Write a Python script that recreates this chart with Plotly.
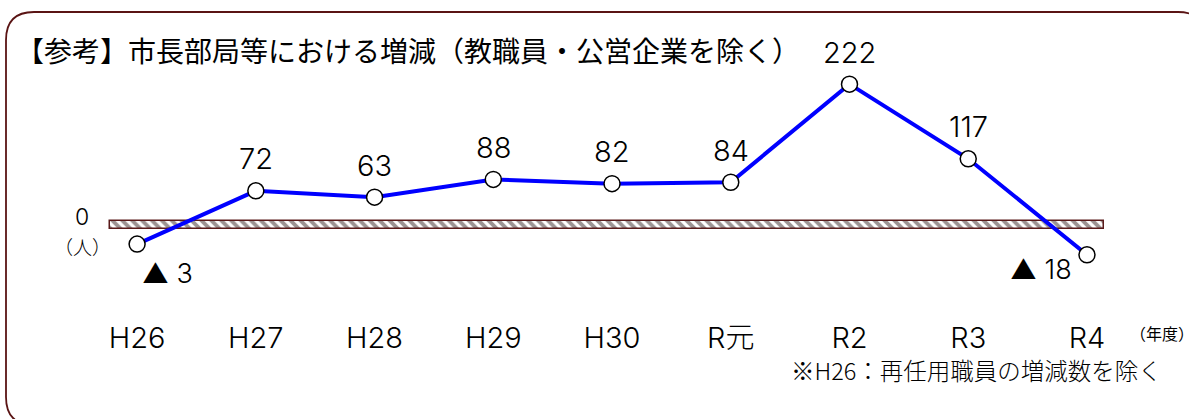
import plotly.graph_objects as go

# 年度別の増減数（人）
years = ["H26", "H27", "H28", "H29", "H30", "R元", "R2", "R3", "R4"]
changes = [-3, 72, 63, 88, 82, 84, 222, 117, -18]

title_text = "【参考】市長部局等における増減（教職員・公営企業を除く）"
note_text = "※H26：再任用職員の増減数を除く"
unit_text = "（人）"
fy_text = "（年度）"

W, H = 1189, 419
ML, MR, MT, MB = 100, 79, 20, 105
PW, PH = W - ML - MR, H - MT - MB

xs = list(range(len(years)))
x_range = [-0.3125, 8.194]
y_range = [-101.3, 312.2]

SANS = "Inter, DejaVu Sans, Noto Sans CJK JP"
CJK = "Noto Sans CJK JP"


def px(x):
    return (x - ML) / PW


def py(y):
    return (H - MB - y) / PH


fig = go.Figure()

# 0 ライン（斜線帯）
fig.add_trace(go.Bar(
    x=[3.958], y=[11.2], base=[18.3], width=[8.371],
    marker=dict(
        color="white",
        line=dict(color="#5a1a1a", width=1.5),
        pattern=dict(shape="\\", fgcolor="#3a2828", bgcolor="white",
                     size=7, solidity=0.55),
    ),
    hoverinfo="skip", showlegend=False,
))

# 増減の折れ線
fig.add_trace(go.Scatter(
    x=xs, y=changes, mode="lines+markers",
    line=dict(color="#0000ff", width=4),
    marker=dict(size=16, color="white", line=dict(color="black", width=1.5)),
    showlegend=False, hoverinfo="skip",
))

annotations = []
for i, v in enumerate(changes):
    if v >= 0:
        annotations.append(dict(x=i, y=v, text=str(v), showarrow=False,
                                xanchor="center", yanchor="middle",
                                yshift=32, font=dict(family=SANS, size=29, weight=300, color="black")))
    else:
        shift = (30, -29) if i == 0 else (-46, -15)
        annotations.append(dict(x=i, y=v, text="▲ " + str(-v), showarrow=False,
                                xanchor="center", yanchor="middle",
                                xshift=shift[0], yshift=shift[1],
                                font=dict(family=SANS, size=27, weight=300, color="black")))


def note(x, y, text, size, family, xanchor="center", weight=400):
    return dict(xref="paper", yref="paper", x=px(x), y=py(y), xanchor=xanchor,
                yanchor="middle", text=text, showarrow=False,
                font=dict(family=family, size=size, weight=weight, color="black"))


annotations += [
    note(14, 50, title_text, 28, CJK, "left"),
    note(82, 217, "0", 23, SANS, weight=300),
    note(82, 246, unit_text, 19, CJK, weight=300),
    note(1128, 333, fy_text, 16, CJK, "left"),
    note(1164, 370, note_text, 23.5, CJK, "right", weight=300),
]

# 角丸の外枠
L, T, R, B, r = 6, 12, 1206, 425, 28
path = (
    f"M {px(L)},{py(T + r)} Q {px(L)},{py(T)} {px(L + r)},{py(T)} "
    f"L {px(R - r)},{py(T)} Q {px(R)},{py(T)} {px(R)},{py(T + r)} "
    f"L {px(R)},{py(B - r)} Q {px(R)},{py(B)} {px(R - r)},{py(B)} "
    f"L {px(L + r)},{py(B)} Q {px(L)},{py(B)} {px(L)},{py(B - r)} Z"
)

fig.update_layout(
    width=W, height=H,
    margin=dict(l=ML, r=MR, t=MT, b=MB),
    paper_bgcolor="white", plot_bgcolor="white",
    annotations=annotations,
    shapes=[dict(type="path", xref="paper", yref="paper", path=path,
                 line=dict(color="#5a1414", width=1.8), layer="above")],
    xaxis=dict(range=x_range, tickvals=xs, ticktext=years, showgrid=False,
               zeroline=False, showline=False, ticks="",
               tickfont=dict(family=SANS, size=29, weight=300, color="black"),
               ticklabelstandoff=4),
    yaxis=dict(range=y_range, visible=False, showgrid=False, zeroline=False),
    bargap=0,
)

fig.write_html("out.html")
